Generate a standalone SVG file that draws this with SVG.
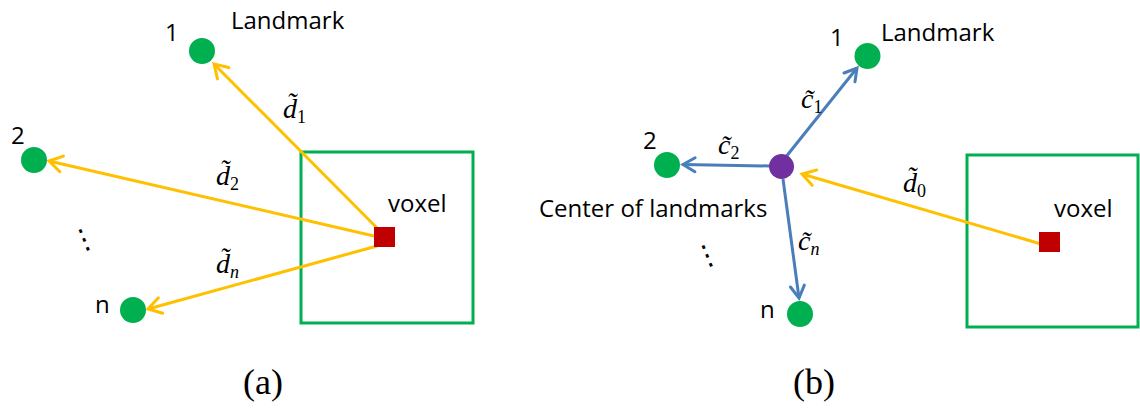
<svg xmlns="http://www.w3.org/2000/svg" width="1140" height="409" viewBox="0 0 1140 409">
<style>
.lbl{font-family:"Open Sans","Liberation Sans",sans-serif;font-size:24px;fill:#000}
.math{font-family:"Liberation Serif","DejaVu Serif",serif;font-size:28px;font-style:italic;fill:#000}
.sub{font-size:18px}
.up{font-style:normal}
.cap{font-family:"Liberation Serif","Times New Roman",serif;font-size:36px;fill:#000}
.lm{fill:#00B050}
.box{fill:none;stroke:#00B050;stroke-width:3}
.vox{fill:#C00000}
.org{fill:none;stroke:#FFC000;stroke-width:3}
.blu{fill:none;stroke:#4A7EBB;stroke-width:3}
.dots{font-family:"DejaVu Sans",sans-serif;font-size:28px;fill:#000}
</style>
<defs>
<marker id="ao" markerUnits="userSpaceOnUse" markerWidth="30" markerHeight="30" refX="0" refY="0" viewBox="-20 -15 30 30" orient="auto" overflow="visible">
<path d="M-13,-8 L0,0 L-13,8" fill="none" stroke="#FFC000" stroke-width="3" stroke-linejoin="miter" stroke-linecap="round"/>
</marker>
<marker id="ab" markerUnits="userSpaceOnUse" markerWidth="30" markerHeight="30" refX="0" refY="0" viewBox="-20 -15 30 30" orient="auto" overflow="visible">
<path d="M-12,-7 L0,0 L-12,7" fill="none" stroke="#4A7EBB" stroke-width="3" stroke-linejoin="miter" stroke-linecap="round"/>
</marker>
</defs>
<g id="panel-a">
<g id="a-box"><rect class="box" x="301" y="152" width="172" height="171"/></g>
<g id="a-connectors">
<line class="org" x1="377" y1="228" x2="214" y2="64" marker-end="url(#ao)"/>
<line class="org" x1="374" y1="236" x2="49" y2="161" marker-end="url(#ao)"/>
<line class="org" x1="377" y1="246" x2="148" y2="309" marker-end="url(#ao)"/>
</g>
<g id="a-landmark1"><circle class="lm" cx="202" cy="51" r="13"/><text class="lbl" x="165" y="41">1</text><text class="lbl" x="231" y="29">Landmark</text></g>
<g id="a-landmark2"><circle class="lm" cx="34" cy="160" r="13"/><text class="lbl" x="11" y="144">2</text></g>
<g id="a-landmarkn"><circle class="lm" cx="133" cy="310" r="13"/><text class="lbl" x="95" y="313">n</text></g>
<g id="a-voxel"><rect class="vox" x="374" y="227" width="21" height="20"/><text class="lbl" x="388" y="212">voxel</text></g>
<text class="dots" x="83" y="249" transform="rotate(-22 83 237)" text-anchor="middle">⋮</text>
<g id="a-labels">
<text class="math" x="283" y="118">d̃<tspan class="sub up" dy="5">1</tspan></text>
<text class="math" x="216" y="185">d̃<tspan class="sub up" dy="5">2</tspan></text>
<text class="math" x="216" y="273">d̃<tspan class="sub" dy="5">n</tspan></text>
</g>
<text class="cap" x="263" y="394" text-anchor="middle">(a)</text>
</g>
<g id="panel-b">
<g id="b-box"><rect class="box" x="967" y="155" width="171" height="172"/></g>
<g id="b-connectors">
<line class="org" x1="1041" y1="244" x2="802" y2="174" marker-end="url(#ao)"/>
<line class="blu" x1="785" y1="158" x2="857" y2="68" marker-end="url(#ab)"/>
<line class="blu" x1="770" y1="166" x2="683" y2="164.5" marker-end="url(#ab)"/>
<line class="blu" x1="783" y1="179" x2="799" y2="298" marker-end="url(#ab)"/>
</g>
<g id="b-center"><circle cx="781.5" cy="166.5" r="12.5" fill="#7030A0"/><text class="lbl" x="539" y="217">Center of landmarks</text></g>
<g id="b-landmark1"><circle class="lm" cx="867.5" cy="56" r="13"/><text class="lbl" x="830" y="46">1</text><text class="lbl" x="881" y="41">Landmark</text></g>
<g id="b-landmark2"><circle class="lm" cx="667" cy="165" r="13"/><text class="lbl" x="643" y="149">2</text></g>
<g id="b-landmarkn"><circle class="lm" cx="800" cy="314" r="13"/><text class="lbl" x="760" y="318">n</text></g>
<g id="b-voxel"><rect class="vox" x="1039" y="232" width="21" height="20"/><text class="lbl" x="1054" y="217">voxel</text></g>
<text class="dots" x="706" y="265" transform="rotate(-22 706 253)" text-anchor="middle">⋮</text>
<g id="b-labels">
<text class="math" x="801" y="108">c̃<tspan class="sub up" dy="5">1</tspan></text>
<text class="math" x="718" y="154">c̃<tspan class="sub up" dy="5">2</tspan></text>
<text class="math" x="798" y="250">c̃<tspan class="sub" dy="5">n</tspan></text>
<text class="math" x="903" y="192">d̃<tspan class="sub up" dy="5">0</tspan></text>
</g>
<text class="cap" x="814" y="394" text-anchor="middle">(b)</text>
</g>
</svg>
